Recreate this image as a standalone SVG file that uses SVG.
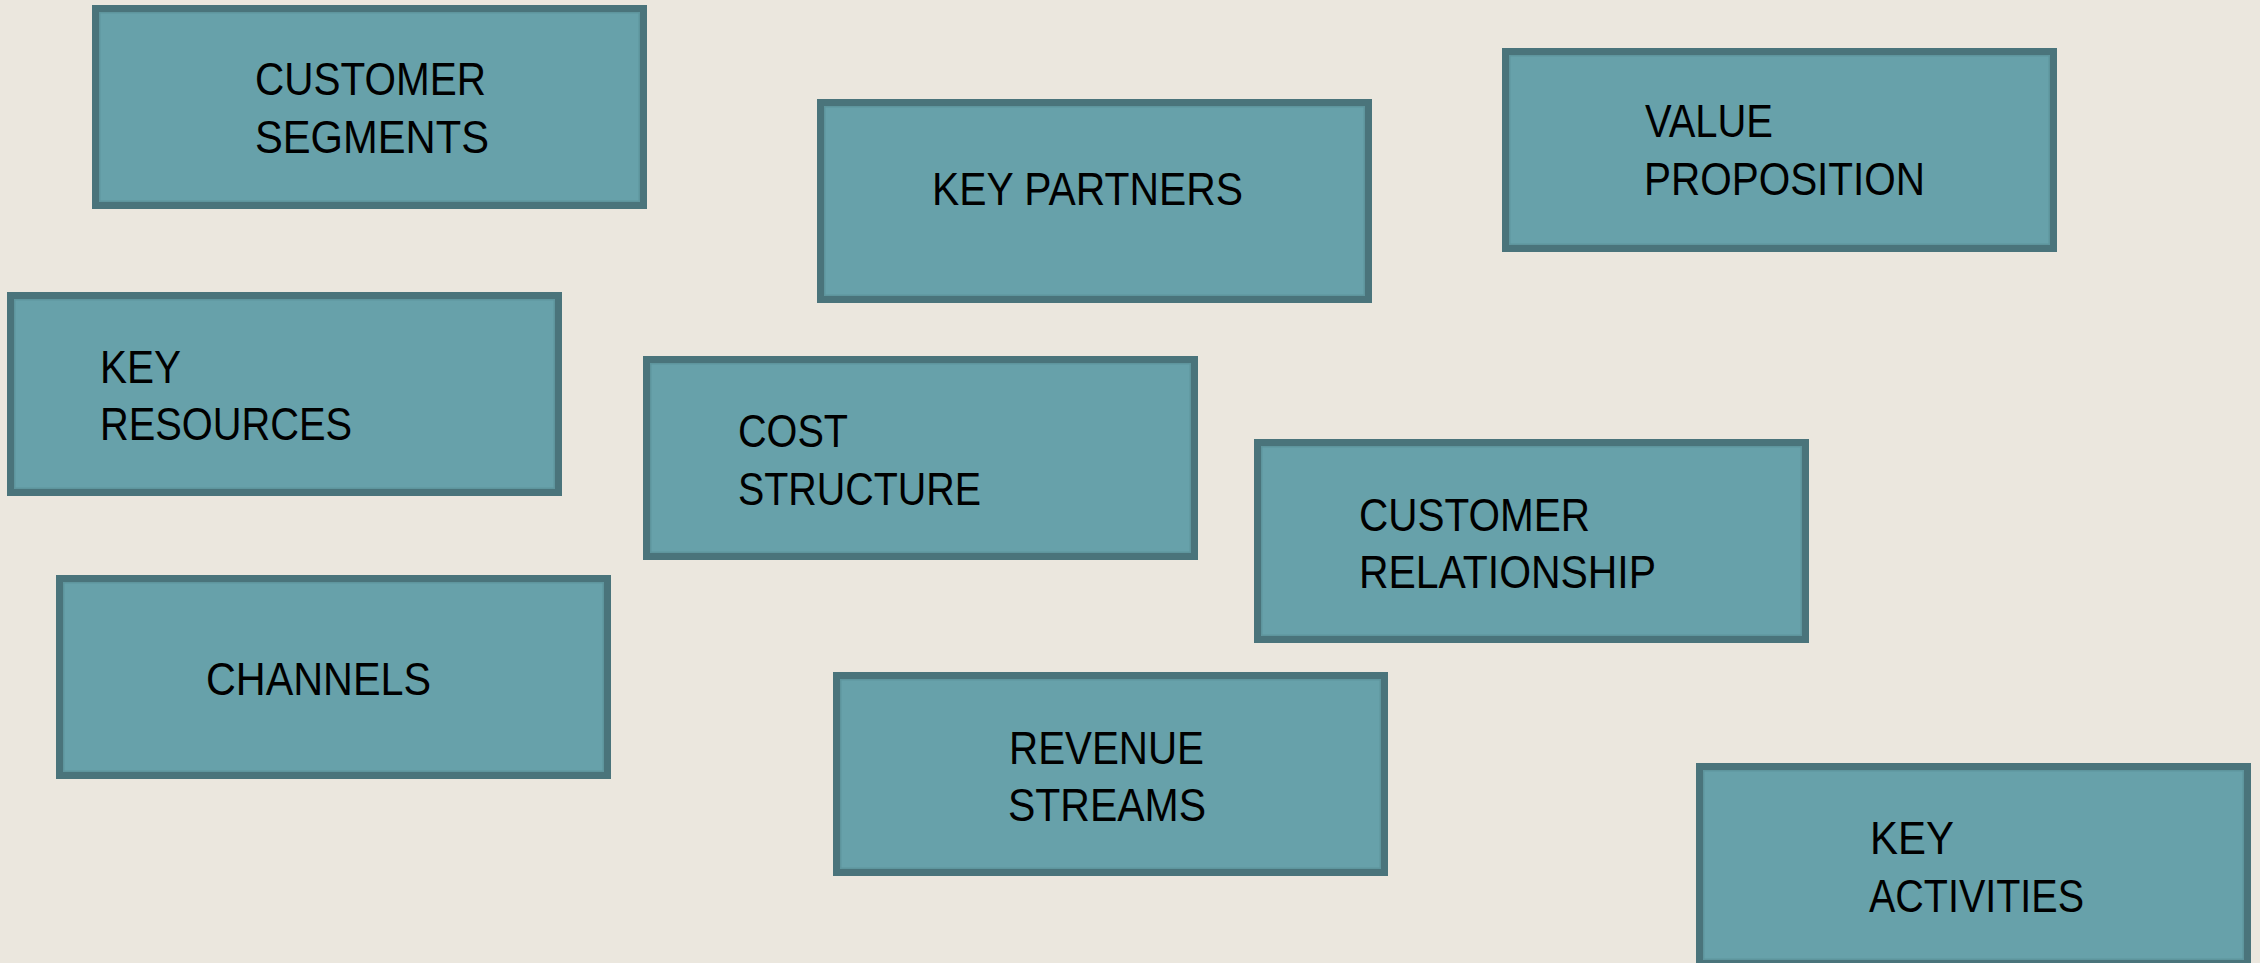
<svg xmlns="http://www.w3.org/2000/svg" width="2260" height="963" viewBox="0 0 2260 963">
<style>
.box{fill:#67a1aa;stroke:#4a747b;stroke-width:7}
.inner{fill:none;stroke:#5e959d;stroke-width:1.5}
.lbl{font-family:"Liberation Sans",Arial,sans-serif;font-size:46px;fill:#000}
</style>
<rect x="0" y="0" width="2260" height="963" fill="#ebe7de"/>
<g id="connectors"></g>
<g id="customer-segments">
<rect class="box" x="95.5" y="8.5" width="548" height="197"/>
<rect class="inner" x="99.75" y="12.75" width="539.5" height="188.5"/>
<text class="lbl" x="255" y="94.5" textLength="231" lengthAdjust="spacingAndGlyphs">CUSTOMER</text>
<text class="lbl" x="255" y="152.5" textLength="234" lengthAdjust="spacingAndGlyphs">SEGMENTS</text>
</g>
<g id="key-partners">
<rect class="box" x="820.5" y="102.5" width="548" height="197"/>
<rect class="inner" x="824.75" y="106.75" width="539.5" height="188.5"/>
<text class="lbl" x="932" y="205" textLength="311" lengthAdjust="spacingAndGlyphs">KEY PARTNERS</text>
</g>
<g id="value-proposition">
<rect class="box" x="1505.5" y="51.5" width="548" height="197"/>
<rect class="inner" x="1509.75" y="55.75" width="539.5" height="188.5"/>
<text class="lbl" x="1645" y="137" textLength="128" lengthAdjust="spacingAndGlyphs">VALUE</text>
<text class="lbl" x="1644" y="195" textLength="281" lengthAdjust="spacingAndGlyphs">PROPOSITION</text>
</g>
<g id="key-resources">
<rect class="box" x="10.5" y="295.5" width="548" height="197"/>
<rect class="inner" x="14.75" y="299.75" width="539.5" height="188.5"/>
<text class="lbl" x="100" y="383" textLength="81" lengthAdjust="spacingAndGlyphs">KEY</text>
<text class="lbl" x="100" y="440" textLength="252" lengthAdjust="spacingAndGlyphs">RESOURCES</text>
</g>
<g id="cost-structure">
<rect class="box" x="646.5" y="359.5" width="548" height="197"/>
<rect class="inner" x="650.75" y="363.75" width="539.5" height="188.5"/>
<text class="lbl" x="738" y="447" textLength="110" lengthAdjust="spacingAndGlyphs">COST</text>
<text class="lbl" x="738" y="505" textLength="243" lengthAdjust="spacingAndGlyphs">STRUCTURE</text>
</g>
<g id="customer-relationship">
<rect class="box" x="1257.5" y="442.5" width="548" height="197"/>
<rect class="inner" x="1261.75" y="446.75" width="539.5" height="188.5"/>
<text class="lbl" x="1359" y="531" textLength="231" lengthAdjust="spacingAndGlyphs">CUSTOMER</text>
<text class="lbl" x="1359" y="587.5" textLength="297" lengthAdjust="spacingAndGlyphs">RELATIONSHIP</text>
</g>
<g id="channels">
<rect class="box" x="59.5" y="578.5" width="548" height="197"/>
<rect class="inner" x="63.75" y="582.75" width="539.5" height="188.5"/>
<text class="lbl" x="206" y="695" textLength="225" lengthAdjust="spacingAndGlyphs">CHANNELS</text>
</g>
<g id="revenue-streams">
<rect class="box" x="836.5" y="675.5" width="548" height="197"/>
<rect class="inner" x="840.75" y="679.75" width="539.5" height="188.5"/>
<text class="lbl" x="1009" y="763.5" textLength="195" lengthAdjust="spacingAndGlyphs">REVENUE</text>
<text class="lbl" x="1008" y="821" textLength="198" lengthAdjust="spacingAndGlyphs">STREAMS</text>
</g>
<g id="key-activities">
<rect class="box" x="1699.5" y="766.5" width="548" height="197"/>
<rect class="inner" x="1703.75" y="770.75" width="539.5" height="188.5"/>
<text class="lbl" x="1870" y="854" textLength="84" lengthAdjust="spacingAndGlyphs">KEY</text>
<text class="lbl" x="1869" y="912" textLength="215" lengthAdjust="spacingAndGlyphs">ACTIVITIES</text>
</g>
</svg>
